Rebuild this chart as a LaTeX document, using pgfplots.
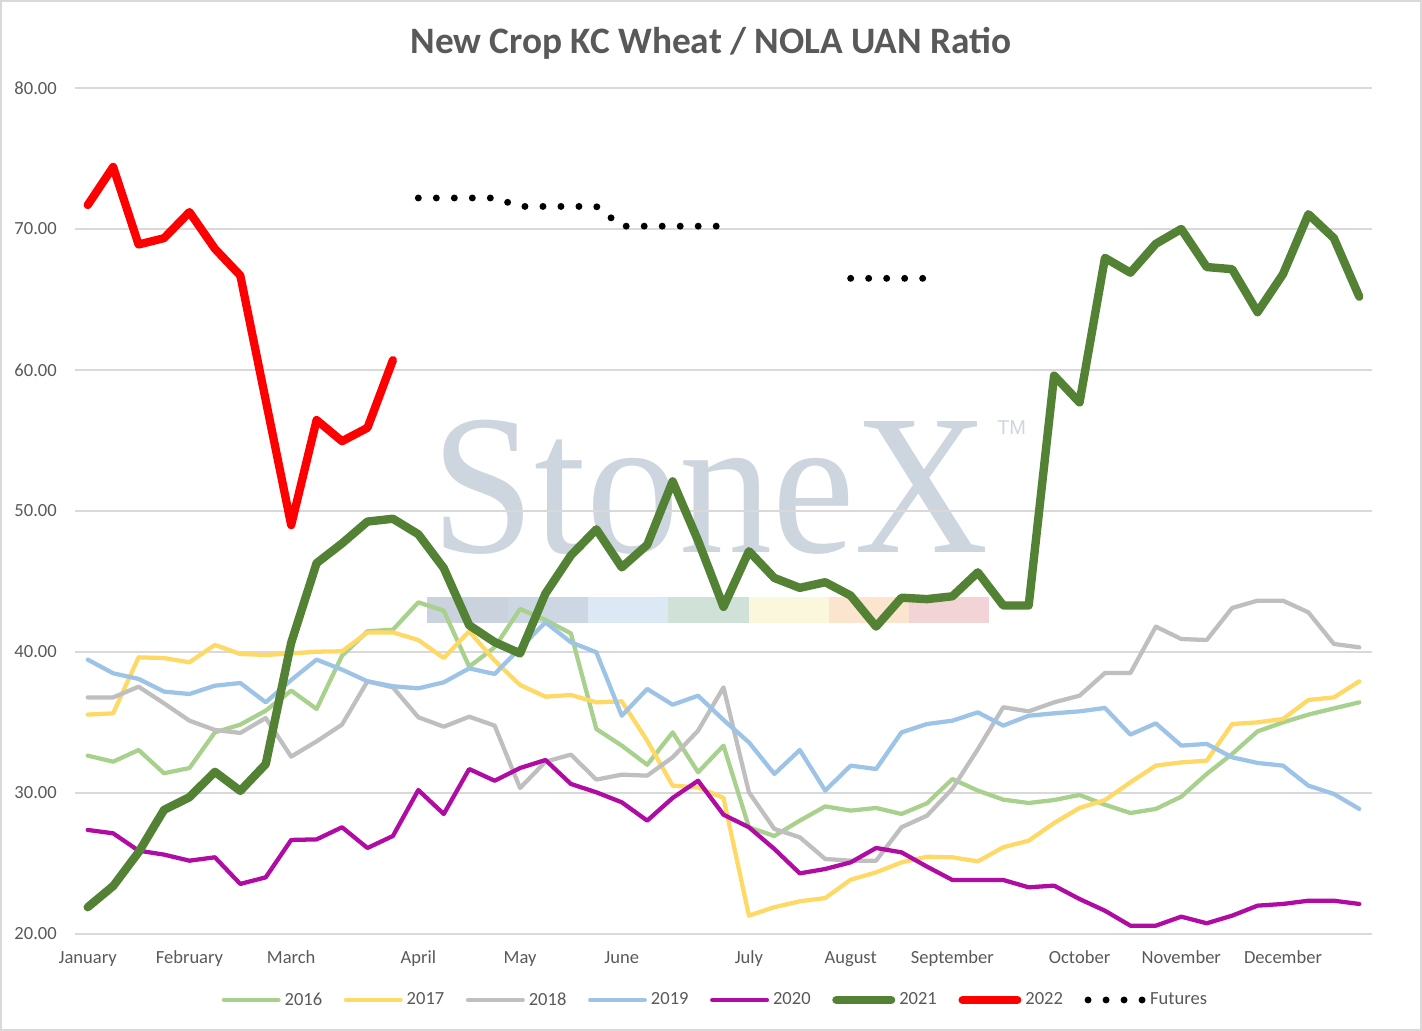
\documentclass[border=0pt]{standalone}
\usepackage{fontspec}
\setmainfont{Carlito}
\newfontfamily\wmfont{Liberation Serif}
\newfontfamily\tmfont{Liberation Sans}
\usepackage{pgfplots}
\pgfplotsset{compat=1.18}
\definecolor{c2016}{HTML}{A9D18E}
\definecolor{c2017}{HTML}{FFD966}
\definecolor{c2018}{HTML}{BFBFBF}
\definecolor{c2019}{HTML}{9DC3E6}
\definecolor{c2020}{HTML}{B00CA3}
\definecolor{c2021}{HTML}{548235}
\definecolor{c2022}{HTML}{FF0000}
\definecolor{tc}{HTML}{595959}
\definecolor{gridc}{HTML}{D9D9D9}
\definecolor{wm}{HTML}{CDD5DF}
\definecolor{wa}{HTML}{C9D2DD}
\definecolor{wb}{HTML}{CDD7E3}
\definecolor{wc}{HTML}{DCE9F4}
\definecolor{wd}{HTML}{D0E1D8}
\definecolor{we}{HTML}{FAF7DC}
\definecolor{wf}{HTML}{FBE5CF}
\definecolor{wg}{HTML}{F2D3D6}
\begin{document}
\begin{tikzpicture}
\path[use as bounding box] (0pt,0pt) rectangle (1066.5pt,773.25pt);
\begin{scope}[x=0.75pt,y=-0.75pt,shift={(0pt,773.25pt)}]
\draw[color=gridc, line width=1.5pt] (1,1) rectangle (1421,1030);
% watermark
\fill[wa] (427,597) rectangle (508,623);
\fill[wb] (508,597) rectangle (588,623);
\fill[wc] (588,597) rectangle (668,623);
\fill[wd] (668,597) rectangle (749,623);
\fill[we] (749,597) rectangle (829,623);
\fill[wf] (829,597) rectangle (909,623);
\fill[wg] (909,597) rectangle (989,623);
\node[anchor=base west, inner sep=0pt, text=wm] at (431,553) {\fontsize{150}{150}\wmfont\scalebox{0.93}[1]{StoneX}};
\node[anchor=base west, inner sep=0pt, text=wm] at (997,435) {\fontsize{15}{15}\tmfont TM};
% title
\node[text=tc, font=\fontsize{28}{28}\selectfont\bfseries] at (711,43) {New Crop KC Wheat / NOLA UAN Ratio};
\end{scope}
\begin{axis}[
  at={(56.25pt,72.75pt)}, anchor=south west, scale only axis,
  width=972.75pt, height=634.5pt,
  xmin=-0.5, xmax=50.5, ymin=20, ymax=80,
  xtick={0,4,8,13,17,21,26,30,34,39,43,47},
  xticklabels={January,February,March,April,May,June,July,August,September,October,November,December},
  ytick={20,30,40,50,60,70,80},
  /pgf/number format/assume math mode=true,
  yticklabel style={/pgf/number format/fixed, /pgf/number format/fixed zerofill, /pgf/number format/precision=2},
  axis line style={draw=none},
  major tick length=0pt,
  ymajorgrids, grid style={color=gridc, line width=1.1pt},
  tick label style={font=\fontsize{13.9}{16}\selectfont, text=tc},
  yticklabel style={anchor=east, inner sep=0pt, xshift=-13.5pt},
  xticklabel style={anchor=base, inner sep=0pt, yshift=-22.5pt},
  legend columns=8,
  legend style={at={(0.494,-0.078)}, anchor=center, draw=none, fill=none,
    font=\fontsize{13.9}{16}\selectfont, text=tc,
    /tikz/every odd column/.append style={column sep=1pt},
    /tikz/every even column/.append style={column sep=14.2pt},
    nodes={inner sep=2pt}},
  legend image code/.code={\draw[#1] (0pt,0pt) -- (41pt,0pt);},
  every axis plot/.append style={line cap=round, line join=round, mark=none},
]
\addplot[c2016, line width=3.2pt] coordinates {
(0,32.65)(1,32.22)(2,33.05)(3,31.4)(4,31.77)(5,34.3)(6,34.85)(7,35.84)(8,37.26)(9,35.96)
(10,39.74)(11,41.47)(12,41.58)(13,43.52)(14,42.93)(15,38.96)(16,40.33)(17,43.05)(18,42.27)(19,41.32)
(20,34.54)(21,33.36)(22,32.0)(23,34.3)(24,31.47)(25,33.36)(26,27.57)(27,26.95)(28,28.04)(29,29.05)
(30,28.75)(31,28.94)(32,28.51)(33,29.27)(34,30.99)(35,30.17)(36,29.53)(37,29.29)(38,29.5)(39,29.86)
(40,29.17)(41,28.58)(42,28.87)(43,29.74)(44,31.35)(45,32.77)(46,34.37)(47,35.01)(48,35.56)(49,36.0)(50,36.43)};
\addlegendentry{2016}
\addplot[c2017, line width=3.2pt] coordinates {
(0,35.56)(1,35.65)(2,39.62)(3,39.57)(4,39.27)(5,40.5)(6,39.86)(7,39.79)(8,39.9)(9,40.02)
(10,40.05)(11,41.39)(12,41.39)(13,40.85)(14,39.57)(15,41.47)(16,39.39)(17,37.66)(18,36.83)(19,36.95)
(20,36.43)(21,36.5)(22,33.71)(23,30.52)(24,30.4)(25,29.65)(26,21.3)(27,21.9)(28,22.32)(29,22.55)
(30,23.85)(31,24.37)(32,25.08)(33,25.48)(34,25.44)(35,25.15)(36,26.15)(37,26.62)(38,27.87)(39,28.94)
(40,29.5)(41,30.76)(42,31.94)(43,32.17)(44,32.29)(45,34.89)(46,35.01)(47,35.25)(48,36.6)(49,36.78)(50,37.92)};
\addlegendentry{2017}
\addplot[c2018, line width=3.2pt] coordinates {
(0,36.78)(1,36.78)(2,37.54)(3,36.36)(4,35.13)(5,34.47)(6,34.26)(7,35.32)(8,32.58)(9,33.66)
(10,34.85)(11,37.92)(12,37.49)(13,35.37)(14,34.7)(15,35.41)(16,34.78)(17,30.35)(18,32.22)(19,32.72)
(20,30.95)(21,31.3)(22,31.23)(23,32.53)(24,34.42)(25,37.49)(26,30.05)(27,27.45)(28,26.86)(29,25.32)
(30,25.2)(31,25.2)(32,27.57)(33,28.39)(34,30.3)(35,33.1)(36,36.08)(37,35.79)(38,36.43)(39,36.9)
(40,38.51)(41,38.51)(42,41.8)(43,40.92)(44,40.85)(45,43.12)(46,43.64)(47,43.64)(48,42.81)(49,40.57)(50,40.33)};
\addlegendentry{2018}
\addplot[c2019, line width=3.2pt] coordinates {
(0,39.46)(1,38.49)(2,38.09)(3,37.19)(4,37.02)(5,37.61)(6,37.8)(7,36.43)(8,38.01)(9,39.46)
(10,38.75)(11,37.92)(12,37.57)(13,37.42)(14,37.85)(15,38.84)(16,38.44)(17,40.28)(18,42.1)(19,40.69)
(20,39.98)(21,35.48)(22,37.38)(23,36.26)(24,36.9)(25,35.18)(26,33.59)(27,31.35)(28,33.05)(29,30.17)
(30,31.94)(31,31.7)(32,34.3)(33,34.89)(34,35.13)(35,35.72)(36,34.78)(37,35.48)(38,35.65)(39,35.79)
(40,36.03)(41,34.14)(42,34.94)(43,33.36)(44,33.48)(45,32.53)(46,32.13)(47,31.94)(48,30.52)(49,29.93)(50,28.87)};
\addlegendentry{2019}
\addplot[c2020, line width=3.2pt] coordinates {
(0,27.38)(1,27.14)(2,25.91)(3,25.63)(4,25.2)(5,25.44)(6,23.55)(7,24.02)(8,26.67)(9,26.71)
(10,27.57)(11,26.1)(12,26.95)(13,30.21)(14,28.51)(15,31.7)(16,30.87)(17,31.77)(18,32.34)(19,30.64)
(20,30.05)(21,29.34)(22,28.04)(23,29.65)(24,30.87)(25,28.46)(26,27.57)(27,26.03)(28,24.3)(29,24.61)
(30,25.08)(31,26.1)(32,25.79)(33,24.78)(34,23.83)(35,23.83)(36,23.83)(37,23.31)(38,23.43)(39,22.48)
(40,21.65)(41,20.59)(42,20.59)(43,21.23)(44,20.76)(45,21.3)(46,22.01)(47,22.13)(48,22.36)(49,22.36)(50,22.13)};
\addlegendentry{2020}
\addplot[c2021, line width=6.3pt] coordinates {
(0,21.9)(1,23.4)(2,25.8)(3,28.8)(4,29.7)(5,31.5)(6,30.15)(7,32.05)(8,40.65)(9,46.3)
(10,47.7)(11,49.25)(12,49.45)(13,48.35)(14,45.95)(15,41.9)(16,40.7)(17,39.9)(18,44.15)(19,46.85)
(20,48.7)(21,46.0)(22,47.6)(23,52.1)(24,47.9)(25,43.2)(26,47.15)(27,45.25)(28,44.55)(29,44.95)
(30,44.0)(31,41.8)(32,43.85)(33,43.75)(34,43.95)(35,45.65)(36,43.3)(37,43.3)(38,59.6)(39,57.7)
(40,67.95)(41,66.9)(42,68.95)(43,70.0)(44,67.3)(45,67.15)(46,64.1)(47,66.8)(48,71.05)(49,69.35)(50,65.2)};
\addlegendentry{2021}
\addplot[c2022, line width=6.2pt] coordinates {
(0,71.7)(1,74.4)(2,68.9)(3,69.35)(4,71.2)(5,68.6)(6,66.7)(7,57.85)(8,49.0)(9,56.45)(10,54.95)(11,55.9)(12,60.7)};
\addlegendentry{2022}
\addplot[black, line width=5.2pt, dash pattern=on 0pt off 13.5pt] coordinates {
(13,72.2)(14,72.2)(15,72.2)(16,72.2)(17,71.6)(18,71.6)(19,71.6)(20,71.6)(21,70.2)(22,70.2)(23,70.2)(24,70.2)(25,70.2)};
\addlegendentry{Futures}
\addplot[black, line width=5.2pt, dash pattern=on 0pt off 13.5pt, forget plot] coordinates {
(30,66.5)(31,66.5)(32,66.5)(33,66.5)};
\end{axis}
\end{tikzpicture}
\end{document}
